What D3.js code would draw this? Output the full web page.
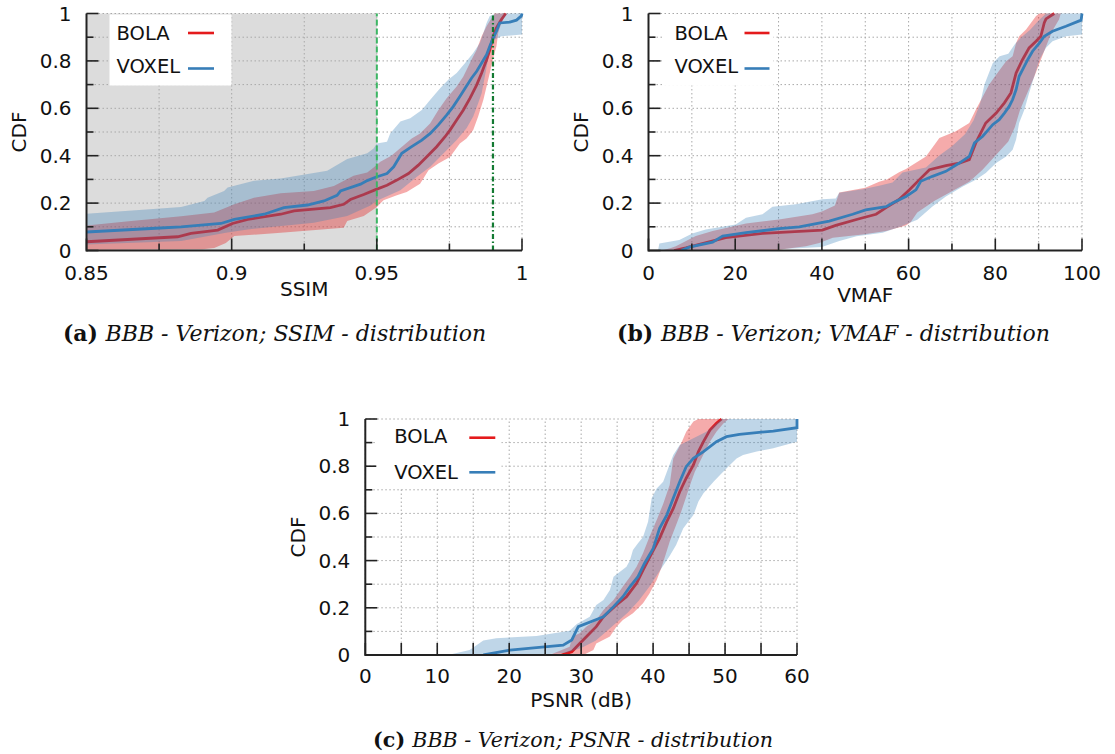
<!DOCTYPE html>
<html><head><meta charset="utf-8">
<script src="https://cdn.jsdelivr.net/npm/d3@7"></script>
<style>
html,body{margin:0;padding:0;background:#fff;}
svg{display:block;}
text{font-family:"DejaVu Sans",sans-serif;fill:#111;}
</style></head>
<body>
<svg id="chart" width="1115" height="754"></svg>
<script>
// ---------------- DATA ----------------
const seriesNames = ["BOLA", "VOXEL"];
const cdfTicks = [0, 0.2, 0.4, 0.6, 0.8, 1];
const ssimTicks = [0.85, 0.9, 0.95, 1];
const vmafTicks = [0, 20, 40, 60, 80, 100];
const psnrTicks = [0, 10, 20, 30, 40, 50, 60];
const ssimThresholds = [0.95, 0.99];

// (a) SSIM: [value, CDF]
const ssimBolaMean = [[0.85,0.037],[0.8814,0.058],[0.886,0.072],[0.8952,0.086],[0.9003,0.114],[0.9055,0.131],[0.9169,0.153],[0.9215,0.167],[0.934,0.181],[0.9386,0.195],[0.9409,0.215],[0.9455,0.236],[0.9498,0.258],[0.9535,0.275],[0.9569,0.297],[0.9609,0.325],[0.9643,0.36],[0.9678,0.403],[0.9706,0.438],[0.9735,0.48],[0.9752,0.508],[0.9775,0.551],[0.9798,0.593],[0.9821,0.643],[0.9844,0.699],[0.9861,0.749],[0.9878,0.805],[0.9889,0.847],[0.9901,0.904],[0.9912,0.939],[0.9929,0.975],[0.9944,1.0]];
const ssimBolaUpper = [[0.85,0.106],[0.8654,0.124],[0.8826,0.145],[0.894,0.16],[0.9009,0.195],[0.9077,0.223],[0.9169,0.242],[0.9283,0.251],[0.9352,0.272],[0.942,0.315],[0.9467,0.329],[0.9489,0.35],[0.9512,0.374],[0.955,0.4],[0.962,0.473],[0.9649,0.494],[0.9684,0.537],[0.9712,0.593],[0.9741,0.643],[0.9775,0.692],[0.9798,0.734],[0.9826,0.805],[0.9844,0.847],[0.9861,0.904],[0.9878,0.946],[0.9889,0.968],[0.9906,1.0]];
const ssimBolaLower = [[0.85,0.003],[0.89,0.005],[0.894,0.011],[0.898,0.032],[0.9009,0.061],[0.9169,0.075],[0.9386,0.096],[0.9398,0.124],[0.9455,0.146],[0.9489,0.174],[0.95,0.184],[0.9523,0.212],[0.9569,0.233],[0.9603,0.247],[0.9649,0.282],[0.9678,0.339],[0.9712,0.367],[0.9752,0.395],[0.9786,0.452],[0.9809,0.473],[0.9832,0.508],[0.9849,0.565],[0.9867,0.636],[0.9878,0.692],[0.9889,0.749],[0.9901,0.812],[0.9912,0.862],[0.9918,0.918],[0.9929,0.96],[0.9946,1.0]];
const ssimVoxelMean = [[0.85,0.078],[0.8754,0.095],[0.8826,0.1],[0.8963,0.114],[0.9009,0.131],[0.9112,0.153],[0.918,0.181],[0.9261,0.192],[0.9318,0.209],[0.9363,0.233],[0.9375,0.251],[0.9444,0.28],[0.9467,0.295],[0.9498,0.31],[0.9535,0.325],[0.9558,0.353],[0.9586,0.41],[0.962,0.438],[0.9655,0.466],[0.9684,0.494],[0.9712,0.53],[0.9741,0.572],[0.9763,0.607],[0.9786,0.65],[0.9804,0.685],[0.9826,0.727],[0.9844,0.756],[0.9861,0.791],[0.9878,0.826],[0.9889,0.862],[0.9901,0.897],[0.9912,0.925],[0.9923,0.96],[0.9958,0.964],[0.9981,0.972],[0.9998,0.99],[1.0,1.0]];
const ssimVoxelUpper = [[0.85,0.155],[0.8826,0.184],[0.8906,0.209],[0.8917,0.223],[0.8974,0.251],[0.8986,0.266],[0.9077,0.294],[0.9169,0.304],[0.9329,0.336],[0.9398,0.386],[0.9467,0.41],[0.9489,0.43],[0.95,0.452],[0.9535,0.459],[0.9546,0.494],[0.9581,0.544],[0.9615,0.558],[0.9655,0.593],[0.9684,0.636],[0.9718,0.685],[0.9746,0.72],[0.9775,0.749],[0.9804,0.791],[0.9832,0.833],[0.9855,0.876],[0.9867,0.918],[0.9878,0.96],[0.9889,0.989],[0.9912,1.0],[1.0,1.0]];
const ssimVoxelLower = [[0.85,0.025],[0.8826,0.04],[0.898,0.075],[0.9055,0.089],[0.9283,0.117],[0.9398,0.146],[0.9478,0.19],[0.95,0.21],[0.9581,0.254],[0.9638,0.311],[0.9684,0.353],[0.973,0.41],[0.9775,0.466],[0.9809,0.516],[0.9832,0.565],[0.9849,0.621],[0.9861,0.664],[0.9872,0.734],[0.9883,0.805],[0.9895,0.862],[0.9906,0.89],[0.9929,0.904],[1.0,0.911]];

// (b) VMAF
const vmafBolaMean = [[5.9,0],[8.6,0.011],[17.8,0.054],[26.3,0.072],[40.1,0.086],[43.2,0.106],[48.6,0.134],[52.5,0.153],[54.8,0.181],[57.8,0.215],[60.2,0.256],[62.5,0.299],[64.8,0.341],[68.6,0.358],[71.7,0.369],[74,0.383],[75.5,0.454],[77.8,0.538],[80.2,0.58],[82.1,0.623],[83.6,0.665],[84.8,0.749],[86.3,0.806],[87.8,0.855],[89.4,0.883],[90.5,0.904],[91.3,0.961],[91.7,0.977],[93.6,1.0]];
const vmafBolaUpper = [[3,0],[5,0.01],[6.3,0.018],[10.9,0.061],[14.8,0.082],[22.5,0.114],[30.1,0.131],[37.8,0.153],[40,0.165],[43,0.19],[44,0.245],[50,0.265],[53.2,0.29],[55,0.3],[57.8,0.33],[59.4,0.344],[64,0.397],[67.1,0.475],[70.9,0.503],[74,0.538],[75.5,0.594],[78.6,0.7],[80.2,0.742],[82.5,0.799],[84,0.82],[84.8,0.876],[85.5,0.904],[87.1,0.932],[89.4,0.989],[90.2,1.0]];
const vmafBolaLower = [[28.6,0],[36.3,0.018],[39.4,0.032],[42.5,0.054],[49.4,0.068],[54.8,0.082],[59.4,0.106],[60.5,0.12],[62,0.16],[66,0.21],[70,0.25],[74,0.29],[77,0.34],[80,0.4],[83,0.46],[84.5,0.52],[85.7,0.593],[87.5,0.67],[89,0.734],[91.4,0.847],[93.1,0.925],[94.7,0.975],[95.1,1.0]];
const vmafVoxelMean = [[7.5,0],[9.4,0.014],[14.8,0.035],[17.1,0.061],[22.5,0.075],[30.1,0.092],[34.8,0.1],[41.7,0.124],[47.1,0.153],[50.1,0.171],[54.8,0.185],[56.3,0.2],[59.4,0.228],[61.7,0.256],[62.8,0.292],[65.5,0.313],[68.6,0.334],[71.7,0.369],[74,0.397],[75.2,0.454],[77.1,0.482],[79.4,0.531],[80.9,0.552],[82.1,0.58],[83.2,0.608],[84,0.637],[84.8,0.679],[85.5,0.735],[86.3,0.763],[87.5,0.806],[88.6,0.841],[90.2,0.876],[91.3,0.904],[93.2,0.925],[96.3,0.946],[99.8,0.972],[100,1.0]];
const vmafVoxelUpper = [[2.2,0],[2.5,0.03],[7.1,0.044],[10.1,0.072],[13.2,0.089],[20.1,0.11],[22.5,0.138],[26.3,0.153],[28.6,0.185],[34,0.195],[40.1,0.216],[43.2,0.219],[44,0.244],[49.4,0.258],[53.2,0.273],[56.3,0.287],[58.6,0.329],[64,0.35],[67,0.4],[70,0.44],[73,0.49],[75,0.55],[76.5,0.62],[77.5,0.7],[79.4,0.79],[81,0.82],[83,0.83],[84.5,0.87],[86,0.9],[88,0.93],[90,0.97],[91.7,1.0],[100,1.0]];
const vmafVoxelLower = [[14,0],[30,0.005],[40,0.015],[44,0.04],[48,0.06],[54,0.075],[58,0.1],[62,0.13],[65.5,0.186],[68.6,0.228],[72.5,0.27],[75.5,0.299],[77.8,0.327],[80.2,0.369],[82.5,0.397],[84,0.425],[84.8,0.468],[85.5,0.538],[86.7,0.594],[87.8,0.665],[89,0.735],[90.2,0.806],[91.7,0.855],[93.2,0.883],[96.3,0.904],[100,0.911]];

// (c) PSNR
const psnrBolaMean = [[27.3,0],[28.7,0.014],[29.8,0.049],[31.2,0.092],[32.1,0.12],[33.1,0.162],[34.9,0.212],[36.3,0.247],[37.7,0.304],[38.6,0.36],[39.8,0.431],[40.9,0.494],[41.9,0.565],[42.8,0.621],[43.7,0.692],[44.6,0.749],[45.6,0.805],[46.3,0.862],[47,0.904],[47.9,0.953],[48.8,0.982],[49.5,1.0]];
const psnrBolaUpper = [[25.6,0],[28.4,0.035],[28.8,0.078],[29.8,0.092],[30.7,0.12],[32.1,0.148],[33.1,0.191],[34.5,0.233],[35.8,0.29],[36.8,0.332],[37.7,0.374],[38.6,0.431],[39.5,0.501],[40.5,0.572],[41.4,0.64],[42.3,0.72],[42.8,0.833],[44,0.904],[44.6,0.946],[45.6,0.989],[46.3,1.0]];
const psnrBolaLower = [[30.3,0],[31.7,0.021],[32.1,0.049],[34,0.078],[34.9,0.12],[35.8,0.148],[37.2,0.177],[38.6,0.219],[39.5,0.261],[40.5,0.318],[41.2,0.374],[41.8,0.431],[42.3,0.48],[43.2,0.551],[43.9,0.607],[44.6,0.671],[45.3,0.734],[45.8,0.777],[46.5,0.819],[47.2,0.862],[47.9,0.904],[48.8,0.946],[49.8,0.982],[50.5,1.0]];
const psnrVoxelMean = [[16.4,0],[20.1,0.021],[23.8,0.031],[27.5,0.042],[28.7,0.064],[29.6,0.12],[33.1,0.162],[34.5,0.205],[35.8,0.247],[36.8,0.29],[37.9,0.332],[38.8,0.388],[40,0.45],[40.9,0.537],[41.9,0.593],[42.8,0.664],[43.7,0.734],[44.6,0.798],[45.6,0.833],[47,0.862],[48.8,0.904],[50.2,0.925],[52,0.935],[56.7,0.949],[60,0.963],[60,1.0]];
const psnrVoxelUpper = [[11.5,0],[14.5,0.021],[16.4,0.061],[18.2,0.071],[23.8,0.081],[28.4,0.103],[29.4,0.131],[31.2,0.162],[32.1,0.212],[33.1,0.233],[34,0.275],[34.5,0.332],[35.4,0.353],[36.3,0.374],[36.8,0.403],[37.2,0.445],[37.9,0.473],[38.6,0.5],[39.3,0.565],[39.8,0.664],[40.5,0.706],[41.4,0.734],[42.1,0.791],[42.8,0.847],[43.7,0.89],[45.6,0.918],[47.4,0.946],[48.8,0.982],[49.5,1.0],[60,1.0]];
const psnrVoxelLower = [[17,0],[25,0.003],[28,0.01],[30,0.03],[32,0.06],[33.5,0.1],[35,0.14],[36.5,0.18],[38,0.23],[39.5,0.29],[41,0.36],[42.3,0.42],[43.2,0.466],[44.2,0.537],[45.6,0.593],[46.3,0.65],[47,0.685],[48.4,0.734],[49.3,0.763],[50.5,0.8],[51.6,0.833],[52.5,0.847],[54.4,0.862],[56.7,0.876],[60,0.904]];

const captionLabels = ["(a)", "(b)", "(c)"];
const captionTexts = ["BBB - Verizon; SSIM - distribution", "BBB - Verizon; VMAF - distribution", "BBB - Verizon; PSNR - distribution"];
const xTitles = ["SSIM", "VMAF", "PSNR (dB)"];

// ---------------- STYLE / LAYOUT ----------------
const colors = {BOLA: "#e41a1c", VOXEL: "#377eb8"};
const svg = d3.select("#chart");

const panels = [
  {x0:86.5, x1:522, yTop:13.5, yBot:250.5, domain:[0.85,1], grid:0.025, ticks:ssimTicks, fmt:d=>String(d),
   major:v=>Math.abs((v*1000)%50)<1e-6 || Math.abs((v*1000)%50-50)<1e-6,
   data:[ssimBolaMean,ssimBolaUpper,ssimBolaLower,ssimVoxelMean,ssimVoxelUpper,ssimVoxelLower],
   shade:[0.85,0.95], vlines:ssimThresholds, titleY:296, labelY:280,
   legend:{bx0:23,bx1:145,bh:71,tx:30,l0:101.5,l1:127.5,ty:[26,59.5],ly:[19.5,55]}},
  {x0:648.5, x1:1082, yTop:13.5, yBot:250.5, domain:[0,100], grid:10, ticks:vmafTicks, fmt:d=>String(d),
   major:v=>Math.round(v)%20===0,
   data:[vmafBolaMean,vmafBolaUpper,vmafBolaLower,vmafVoxelMean,vmafVoxelUpper,vmafVoxelLower],
   titleY:302, labelY:280,
   legend:{bx0:15,bx1:125,bh:71,tx:26,l0:96,l1:121,ty:[26,59.5],ly:[19.5,55]}},
  {x0:365.3, x1:797, yTop:419, yBot:655, domain:[0,60], grid:5, ticks:psnrTicks, fmt:d=>String(d),
   major:v=>true,
   data:[psnrBolaMean,psnrBolaUpper,psnrBolaLower,psnrVoxelMean,psnrVoxelUpper,psnrVoxelLower],
   titleY:707, labelY:683,
   legend:{bx0:11,bx1:136,bh:68,tx:29,l0:104,l1:130,ty:[24,60],ly:[18.7,53.3]}}
];

panels.forEach((p, i) => {
  const x = d3.scaleLinear().domain(p.domain).range([p.x0, p.x1]);
  const y = d3.scaleLinear().domain([0, 1]).range([p.yBot, p.yTop]);
  const g = svg.append("g");
  const clipId = "clip" + i;
  svg.append("clipPath").attr("id", clipId).append("rect")
    .attr("x", p.x0).attr("y", p.yTop - 2).attr("width", p.x1 - p.x0 + 2).attr("height", p.yBot - p.yTop + 2);

  if (p.shade) {
    g.append("rect").attr("x", x(p.shade[0])).attr("y", y(1))
      .attr("width", x(p.shade[1]) - x(p.shade[0])).attr("height", y(0) - y(1))
      .attr("fill", "#dcdcdc");
  }

  const xg = d3.range(p.domain[0], p.domain[1] + p.grid / 2, p.grid);
  const yg = d3.range(0, 1.05, 0.1);
  const grid = g.append("g").attr("stroke", "#a8a8a8").attr("stroke-width", 1).attr("stroke-dasharray", "1.5,2.5");
  xg.forEach(v => grid.append("line").attr("x1", x(v)).attr("x2", x(v)).attr("y1", y(0)).attr("y2", y(1)));
  yg.forEach(v => grid.append("line").attr("x1", x(p.domain[0])).attr("x2", x(p.domain[1])).attr("y1", y(v)).attr("y2", y(v)));

  const line = d3.line().x(d => x(d[0])).y(d => y(d[1]));
  const area = (up, lo) => line(up.concat(lo.slice().reverse())) + "Z";
  const dg = g.append("g").attr("clip-path", `url(#${clipId})`);
  const [bm, bu, bl, vm, vu, vl] = p.data;
  dg.append("path").attr("d", area(bu, bl)).attr("fill", colors.BOLA).attr("fill-opacity", 0.37);
  dg.append("path").attr("d", line(bm)).attr("fill", "none").attr("stroke", colors.BOLA).attr("stroke-width", 2.8);
  dg.append("path").attr("d", area(vu, vl)).attr("fill", colors.VOXEL).attr("fill-opacity", 0.32);
  dg.append("path").attr("d", line(vm)).attr("fill", "none").attr("stroke", colors.VOXEL).attr("stroke-width", 2.8);

  if (p.vlines) {
    g.append("line").attr("x1", x(p.vlines[0])).attr("x2", x(p.vlines[0])).attr("y1", y(0)).attr("y2", y(1))
      .attr("stroke", "#3cb664").attr("stroke-width", 2).attr("stroke-dasharray", "6,3");
    g.append("line").attr("x1", x(p.vlines[1])).attr("x2", x(p.vlines[1])).attr("y1", y(0)).attr("y2", y(1))
      .attr("stroke", "#137a32").attr("stroke-width", 2.2).attr("stroke-dasharray", "5,2.5,1.5,2.5");
  }

  const ax = g.append("g").attr("stroke", "#222");
  ax.append("line").attr("x1", p.x0).attr("x2", p.x1).attr("y1", p.yBot).attr("y2", p.yBot).attr("stroke-width", 2);
  ax.append("line").attr("x1", p.x0).attr("x2", p.x0).attr("y1", p.yBot + 1).attr("y2", p.yTop).attr("stroke-width", 2);
  xg.forEach(v => {
    const len = p.major(v) ? 12 : 7;
    ax.append("line").attr("x1", x(v)).attr("x2", x(v)).attr("y1", p.yBot).attr("y2", p.yBot - len).attr("stroke-width", 1.6);
  });
  yg.forEach((v, k) => {
    const len = k % 2 === 0 ? 12 : 7;
    ax.append("line").attr("x1", p.x0).attr("x2", p.x0 + len).attr("y1", y(v)).attr("y2", y(v)).attr("stroke-width", 1.6);
  });
  p.ticks.forEach(v => g.append("text").attr("x", x(v)).attr("y", p.labelY).attr("text-anchor", "middle")
    .attr("font-size", 20).text(p.fmt(v)));
  cdfTicks.forEach(v => g.append("text").attr("x", p.x0 - 15).attr("y", y(v) + 7).attr("text-anchor", "end")
    .attr("font-size", 20).text(String(v)));

  g.append("text").attr("x", (p.x0 + p.x1) / 2).attr("y", p.titleY).attr("text-anchor", "middle")
    .attr("font-size", 20).text(xTitles[i]);
  g.append("text").attr("transform", `translate(${p.x0 - 60.5},${(p.yTop + p.yBot) / 2}) rotate(-90)`)
    .attr("text-anchor", "middle").attr("font-size", 20).text("CDF");

  const L = p.legend;
  g.append("rect").attr("x", p.x0 + L.bx0).attr("y", p.yTop + 1).attr("width", L.bx1 - L.bx0).attr("height", L.bh).attr("fill", "#fff");
  seriesNames.forEach((s, k) => {
    g.append("text").attr("x", p.x0 + L.tx).attr("y", p.yTop + L.ty[k]).attr("font-size", 19.5).text(s);
    g.append("line").attr("x1", p.x0 + L.l0).attr("x2", p.x0 + L.l1).attr("y1", p.yTop + L.ly[k]).attr("y2", p.yTop + L.ly[k])
      .attr("stroke", colors[s]).attr("stroke-width", 2.6);
  });
});

// captions: fit to measured widths in the reference
const capPos = [[274.5, 341, 425], [833.5, 341, 447], [573, 747, 400]];
capPos.forEach((c, i) => {
  const t = svg.append("text").attr("x", c[0]).attr("y", c[1]).attr("text-anchor", "middle")
    .style("font-family", "'DejaVu Serif', serif").attr("font-size", 20);
  t.append("tspan").attr("font-weight", "bold").text(captionLabels[i] + " ");
  t.append("tspan").attr("font-style", "italic").text(captionTexts[i]);
  const w = t.node().getComputedTextLength();
  const fs = Math.max(17, Math.min(22, 20 * c[2] / w));
  t.attr("font-size", fs);
});
</script>
</body></html>
